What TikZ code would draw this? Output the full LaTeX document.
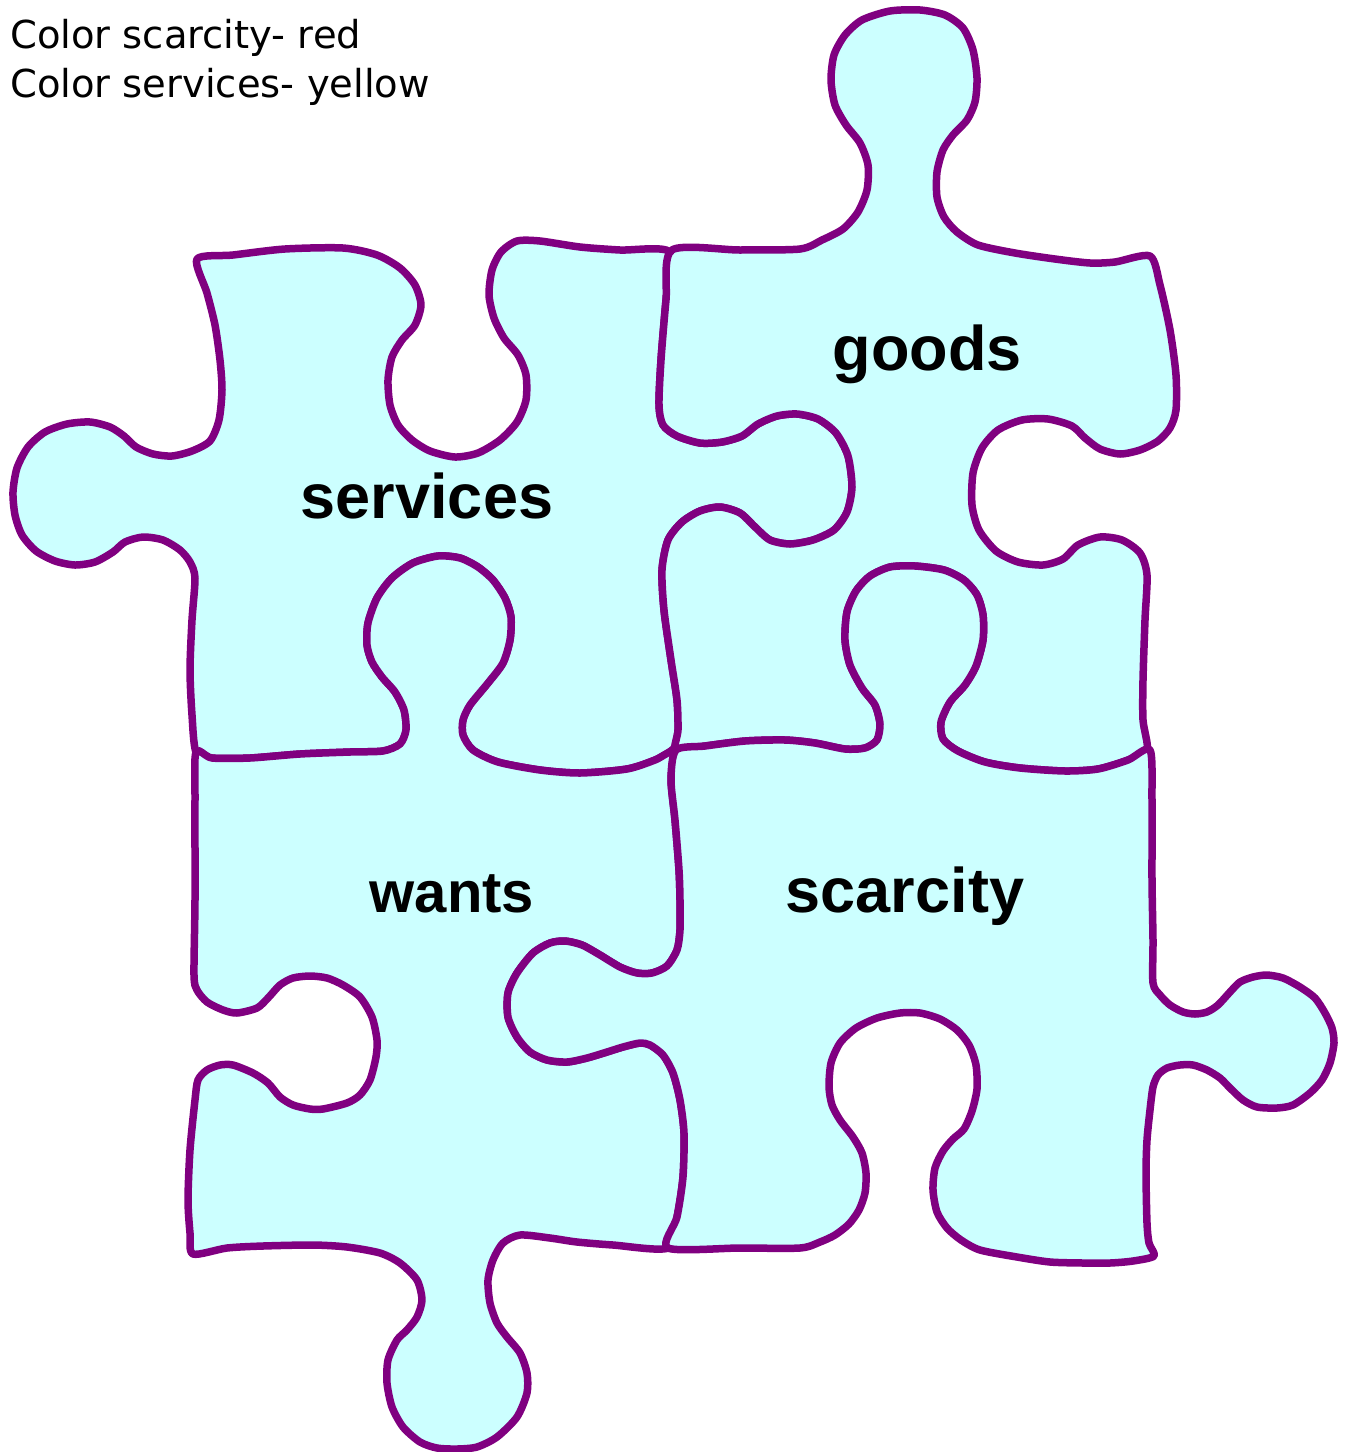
\documentclass[tikz,border=0pt]{standalone}
\usepackage{fontspec}
\setmainfont{Liberation Sans}
\newfontfamily\notefont{DejaVu Sans}
\definecolor{piecefill}{HTML}{CCFFFF}
\definecolor{pieceline}{HTML}{800080}

\begin{document}
\begin{tikzpicture}[x=1pt,y=-1pt,
  piece/.style={fill=piecefill,draw=pieceline,line width=7.5pt,line join=round},
  word/.style={font=\fontsize{63}{63}\selectfont\bfseries,anchor=base,inner sep=0pt},
  note/.style={font=\notefont\fontsize{38.5}{38.5}\selectfont,anchor=base west,inner sep=0pt}]
\useasboundingbox (0,0) rectangle (1347,1452);

% services, top left
\filldraw[piece] plot[smooth cycle,tension=.45] coordinates {
 (197,259) (233,255) (285,249) (343,248) (377,255) (400,268) (415,285) (421,305) (415,325) (402,340)
 (392,357) (388,380) (390,405) (398,425) (412,440) (430,451) (455,457) (478,453) (500,440) (517,422)
 (526,400) (526,375) (518,355) (504,338) (494,318) (489,295) (492,270) (501,252) (517,241) (540,241)
 (580,247) (620,250) (670,252)
 (666,300) (661,360) (659,405) (663,425) (677,436) (700,443) (722,442) (742,436) (758,424) (777,416)
 (797,414) (818,419) (836,433) (848,456) (852,487) (847,512) (834,530) (813,540) (790,544) (770,540)
 (755,527) (740,513) (720,507) (700,511) (682,522) (668,540) (662,570) (664,610) (671,660) (677,700)
 (678,730) (674,748)
 (655,760) (627,769) (580,773) (540,770) (498,762) (473,750) (463,735) (463,720) (470,705) (488,683)
 (503,663) (510,640) (511,617) (505,598) (493,580) (478,567) (460,558) (438,556) (413,563) (392,578)
 (377,598) (368,623) (367,645) (372,662) (382,677) (395,692) (404,710) (406,730) (400,744) (383,751)
 (350,752) (300,754) (250,758) (212,758) (196,752)
 (192,715) (190,670) (192,620) (195,578) (190,562) (180,550) (163,540) (143,537) (125,542) (113,552)
 (95,562) (75,565) (55,561) (36,551) (22,535) (15,515) (13,492) (17,468) (28,447) (45,432)
 (67,424) (90,422) (110,427) (124,436) (136,447) (153,454) (172,456) (192,451) (210,441) (219,420)
 (222,390) (220,360) (215,325) (207,293)};

% goods, top right
\filldraw[piece] plot[smooth cycle,tension=.45] coordinates {
 (672,250) (740,250) (800,249) (822,240) (843,229) (858,212) (867,190) (868,165) (860,143) (846,125)
 (835,105) (831,80) (834,55) (845,35) (862,20) (890,11) (920,10) (945,15) (963,28) (973,50)
 (977,78) (975,102) (967,120) (953,135) (943,150) (937,172) (937,197) (944,217) (957,232) (978,245)
 (1015,253) (1055,259) (1090,263) (1115,262) (1150,256)
 (1160,285) (1170,330) (1176,375) (1176,410) (1170,428) (1158,441) (1140,450) (1120,454) (1100,449) (1085,438)
 (1072,426) (1048,419) (1022,420) (998,430) (982,448) (973,473) (972,505) (979,530) (996,551) (1018,562)
 (1043,565) (1063,559) (1078,545) (1100,537) (1122,540) (1140,553) (1147,575) (1145,620) (1143,680) (1143,720)
 (1147,750)
 (1128,760) (1098,769) (1065,771) (1020,768) (985,762) (958,751) (943,739) (941,722) (950,702) (965,685)
 (976,666) (983,640) (983,615) (977,595) (964,580) (944,570) (915,566) (890,567) (870,576) (856,591)
 (847,612) (845,640) (850,665) (862,688) (875,705) (880,724) (877,740) (865,748) (845,749) (815,743)
 (785,740) (745,741) (705,746) (676,750)
 (678,730) (677,700) (671,660) (664,610) (662,570) (668,540) (682,522) (700,511) (720,507) (740,513)
 (755,527) (770,540) (790,544) (813,540) (834,530) (847,512) (852,487) (848,456) (836,433) (818,419)
 (797,414) (777,416) (758,424) (742,436) (722,442) (700,443) (677,436) (663,425) (659,405) (661,360)
 (666,300)};

% wants, bottom left
\filldraw[piece] plot[smooth cycle,tension=.45] coordinates {
 (196,752) (212,758) (250,758) (300,754) (350,752) (383,751) (400,744) (406,730) (404,710) (395,692)
 (382,677) (372,662) (367,645) (368,623) (377,598) (392,578) (413,563) (438,556) (460,558) (478,567)
 (493,580) (505,598) (511,617) (510,640) (503,663) (488,683) (470,705) (463,720) (463,735) (473,750)
 (498,762) (540,770) (580,773) (627,769) (655,760) (673,752)
 (671,780) (675,820) (679,870) (680,900) (680,930) (677,950) (667,966) (652,973) (637,973) (620,967)
 (600,955) (582,945) (565,941) (550,943) (533,953) (517,973) (508,993) (508,1017) (517,1037) (530,1052)
 (547,1060) (567,1062) (587,1058) (607,1052) (623,1047) (640,1043) (650,1045) (663,1055) (673,1073) (680,1100)
 (684,1133) (683,1177) (677,1217) (668,1248)
 (613,1245) (577,1242) (550,1238) (520,1235) (503,1243) (493,1260) (488,1280) (490,1303) (497,1323) (507,1337)
 (520,1353) (527,1373) (527,1393) (517,1417) (497,1437) (477,1447) (457,1449) (437,1448) (420,1442) (403,1427)
 (392,1407) (387,1383) (388,1360) (397,1340) (407,1330) (417,1317) (422,1300) (417,1280) (400,1263) (380,1253)
 (347,1247) (313,1245) (263,1246) (227,1248) (193,1254)
 (190,1233) (188,1200) (190,1150) (195,1100) (198,1080) (207,1070) (220,1065) (233,1065) (253,1073) (268,1083)
 (280,1097) (293,1105) (310,1109) (323,1109) (347,1103) (360,1095) (370,1080) (376,1057) (377,1040) (372,1017)
 (360,997) (343,985) (327,978) (310,976) (293,978) (280,985) (268,998) (257,1008) (237,1013) (223,1010)
 (207,1002) (197,990) (194,975) (195,900) (195,800)};

% scarcity, bottom right
\filldraw[piece] plot[smooth cycle,tension=.45] coordinates {
 (676,750) (705,746) (745,741) (785,740) (815,743) (845,749) (865,748) (877,740) (880,724) (875,705)
 (862,688) (850,665) (845,640) (847,612) (856,591) (870,576) (890,567) (915,566) (944,570) (964,580)
 (977,595) (983,615) (983,640) (976,666) (965,685) (950,702) (941,722) (943,739) (958,751) (985,762)
 (1020,768) (1065,771) (1098,769) (1128,760) (1150,750)
 (1152,800) (1152,880) (1153,940) (1153,983) (1160,995) (1170,1005) (1183,1012) (1195,1014) (1207,1012) (1218,1005)
 (1230,992) (1240,982) (1253,977) (1267,975) (1283,978) (1300,987) (1315,998) (1325,1013) (1332,1028) (1334,1043)
 (1330,1063) (1322,1080) (1310,1093) (1293,1105) (1277,1108) (1257,1107) (1243,1100) (1230,1088) (1220,1078) (1207,1070)
 (1193,1065) (1180,1065) (1167,1068) (1158,1075) (1153,1087) (1150,1110) (1147,1140) (1146,1173) (1147,1223) (1149,1243)
 (1154,1256)
 (1133,1261) (1110,1263) (1083,1263) (1050,1262) (1017,1257) (980,1250) (961,1240) (947,1228) (937,1212) (933,1190)
 (935,1168) (943,1151) (953,1139) (964,1129) (972,1111) (977,1089) (976,1065) (969,1045) (957,1030) (940,1019)
 (920,1013) (900,1013) (877,1018) (856,1028) (840,1043) (831,1063) (829,1087) (832,1105) (840,1120) (853,1137)
 (862,1153) (866,1173) (865,1193) (859,1210) (849,1224) (835,1235) (820,1242) (800,1248) (740,1248) (668,1248)
 (677,1217) (683,1177) (684,1133) (680,1100) (673,1073) (663,1055) (650,1045) (640,1043) (623,1047) (607,1052)
 (587,1058) (567,1062) (547,1060) (530,1052) (517,1037) (508,1017) (508,993) (517,973) (533,953) (550,943)
 (565,941) (582,945) (600,955) (620,967) (637,973) (652,973) (667,966) (677,950) (680,930) (680,900)
 (679,870) (675,820) (671,780)};

\node[word] (services) at (427,518) {services};
\node[word] (goods) at (927,370) {goods};
\node[word,font=\fontsize{58}{58}\selectfont\bfseries] (wants) at (452,912) {wants};
\node[word] (scarcity) at (905,912) {scarcity};

\node[note] (redline) at (10,48) {Color scarcity- red};
\node[note] (yellowline) at (10,97) {Color services- yellow};
\end{tikzpicture}
\end{document}
